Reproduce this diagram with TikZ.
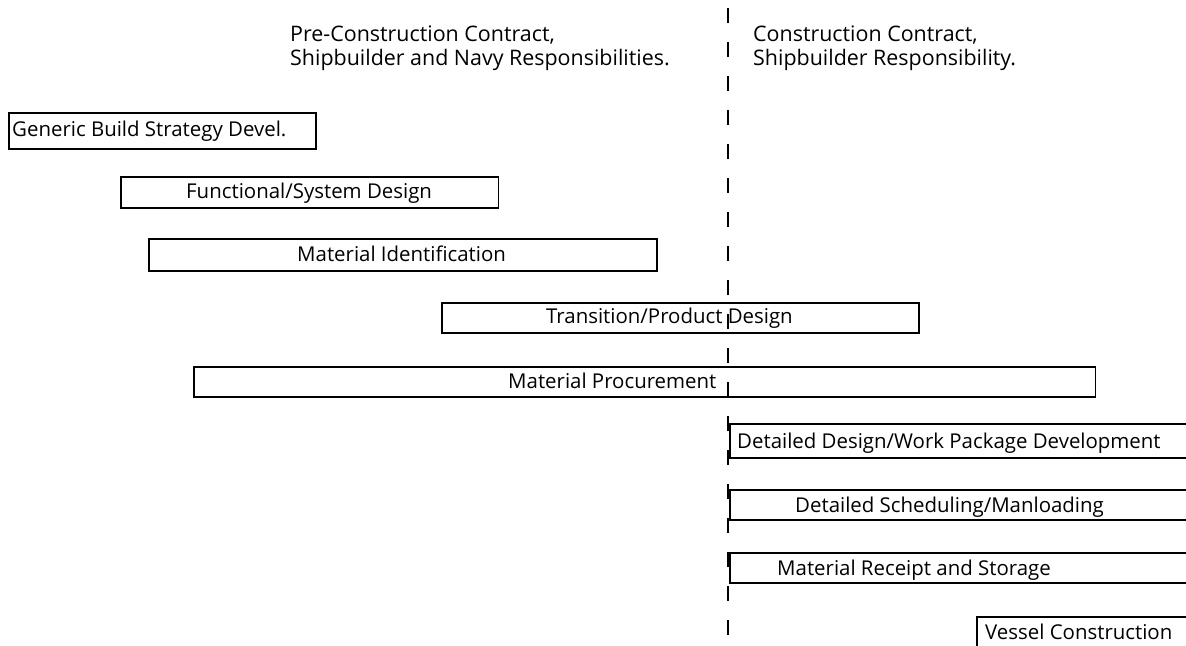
\documentclass[tikz,border=0pt]{standalone}
\usepackage{fontspec}
\setmainfont{Open Sans}
\begin{document}
\begin{tikzpicture}[x=1bp,y=-1bp,
  bar/.style={draw, line width=1.8bp, rectangle, inner sep=0pt, anchor=north west},
  openbar/.style={line width=1.8bp},
  lbl/.style={anchor=base west, inner sep=0pt, font=\fontsize{20.5}{24}\selectfont},
  hdr/.style={anchor=base west, inner sep=0pt, font=\fontsize{21.5}{25}\selectfont, align=left},
  divider/.style={line width=2.8bp, dash pattern=on 15bp off 19bp}]
\useasboundingbox (0,0) rectangle (1186,646);
\fill[white] (0,0) rectangle (1186,646);

% headers
\node[hdr] (hL1) at (290,42) {Pre-Construction Contract,};
\node[hdr] (hL2) at (290,66) {Shipbuilder and Navy Responsibilities.};
\node[hdr] (hR1) at (753,42) {Construction Contract,};
\node[hdr] (hR2) at (753,66) {Shipbuilder Responsibility.};

% divider
\coordinate (dtop) at (728,8);
\coordinate (dbot) at (728,642);
\draw[divider] (dtop) -- (dbot);

% closed bars
\node[bar, minimum width=308, minimum height=36] (b1) at (8,112) {};
\node[lbl] (t1) at (12,137) {Generic Build Strategy Devel.};
\node[bar, minimum width=379, minimum height=31] (b2) at (120,176) {};
\node[lbl] (t2) at (186,199) {Functional/System Design};
\node[bar, minimum width=510, minimum height=32] (b3) at (148,238) {};
\node[lbl] (t3) at (297,262) {Material Identification};
\node[bar, minimum width=479, minimum height=30] (b4) at (441,302) {};
\node[lbl] (t4) at (546,324) {Transition/Product Design};
\node[bar, minimum width=905, minimum height=30] (b5) at (193,366) {};
\node[lbl] (t5) at (508,388) {Material Procurement};

% open bars on the right side
\coordinate (o6a) at (1186,424); \coordinate (o6b) at (730,424);
\coordinate (o6c) at (730,458); \coordinate (o6d) at (1186,458);
\draw[openbar] (o6a) -- (o6b) -- (o6c) -- (o6d);
\node[lbl] (t6) at (737,448) {Detailed Design/Work Package Development};

\coordinate (o7a) at (1186,490); \coordinate (o7b) at (730,490);
\coordinate (o7c) at (730,520); \coordinate (o7d) at (1186,520);
\draw[openbar] (o7a) -- (o7b) -- (o7c) -- (o7d);
\node[lbl] (t7) at (795,512) {Detailed Scheduling/Manloading};

\coordinate (o8a) at (1186,553); \coordinate (o8b) at (730,553);
\coordinate (o8c) at (730,583); \coordinate (o8d) at (1186,583);
\draw[openbar] (o8a) -- (o8b) -- (o8c) -- (o8d);
\node[lbl] (t8) at (777,575) {Material Receipt and Storage};

\coordinate (o9a) at (1186,617); \coordinate (o9b) at (977,617);
\coordinate (o9c) at (977,646);
\draw[openbar] (o9a) -- (o9b) -- (o9c);
\node[lbl] (t9) at (985,639) {Vessel Construction};
\end{tikzpicture}
\end{document}
